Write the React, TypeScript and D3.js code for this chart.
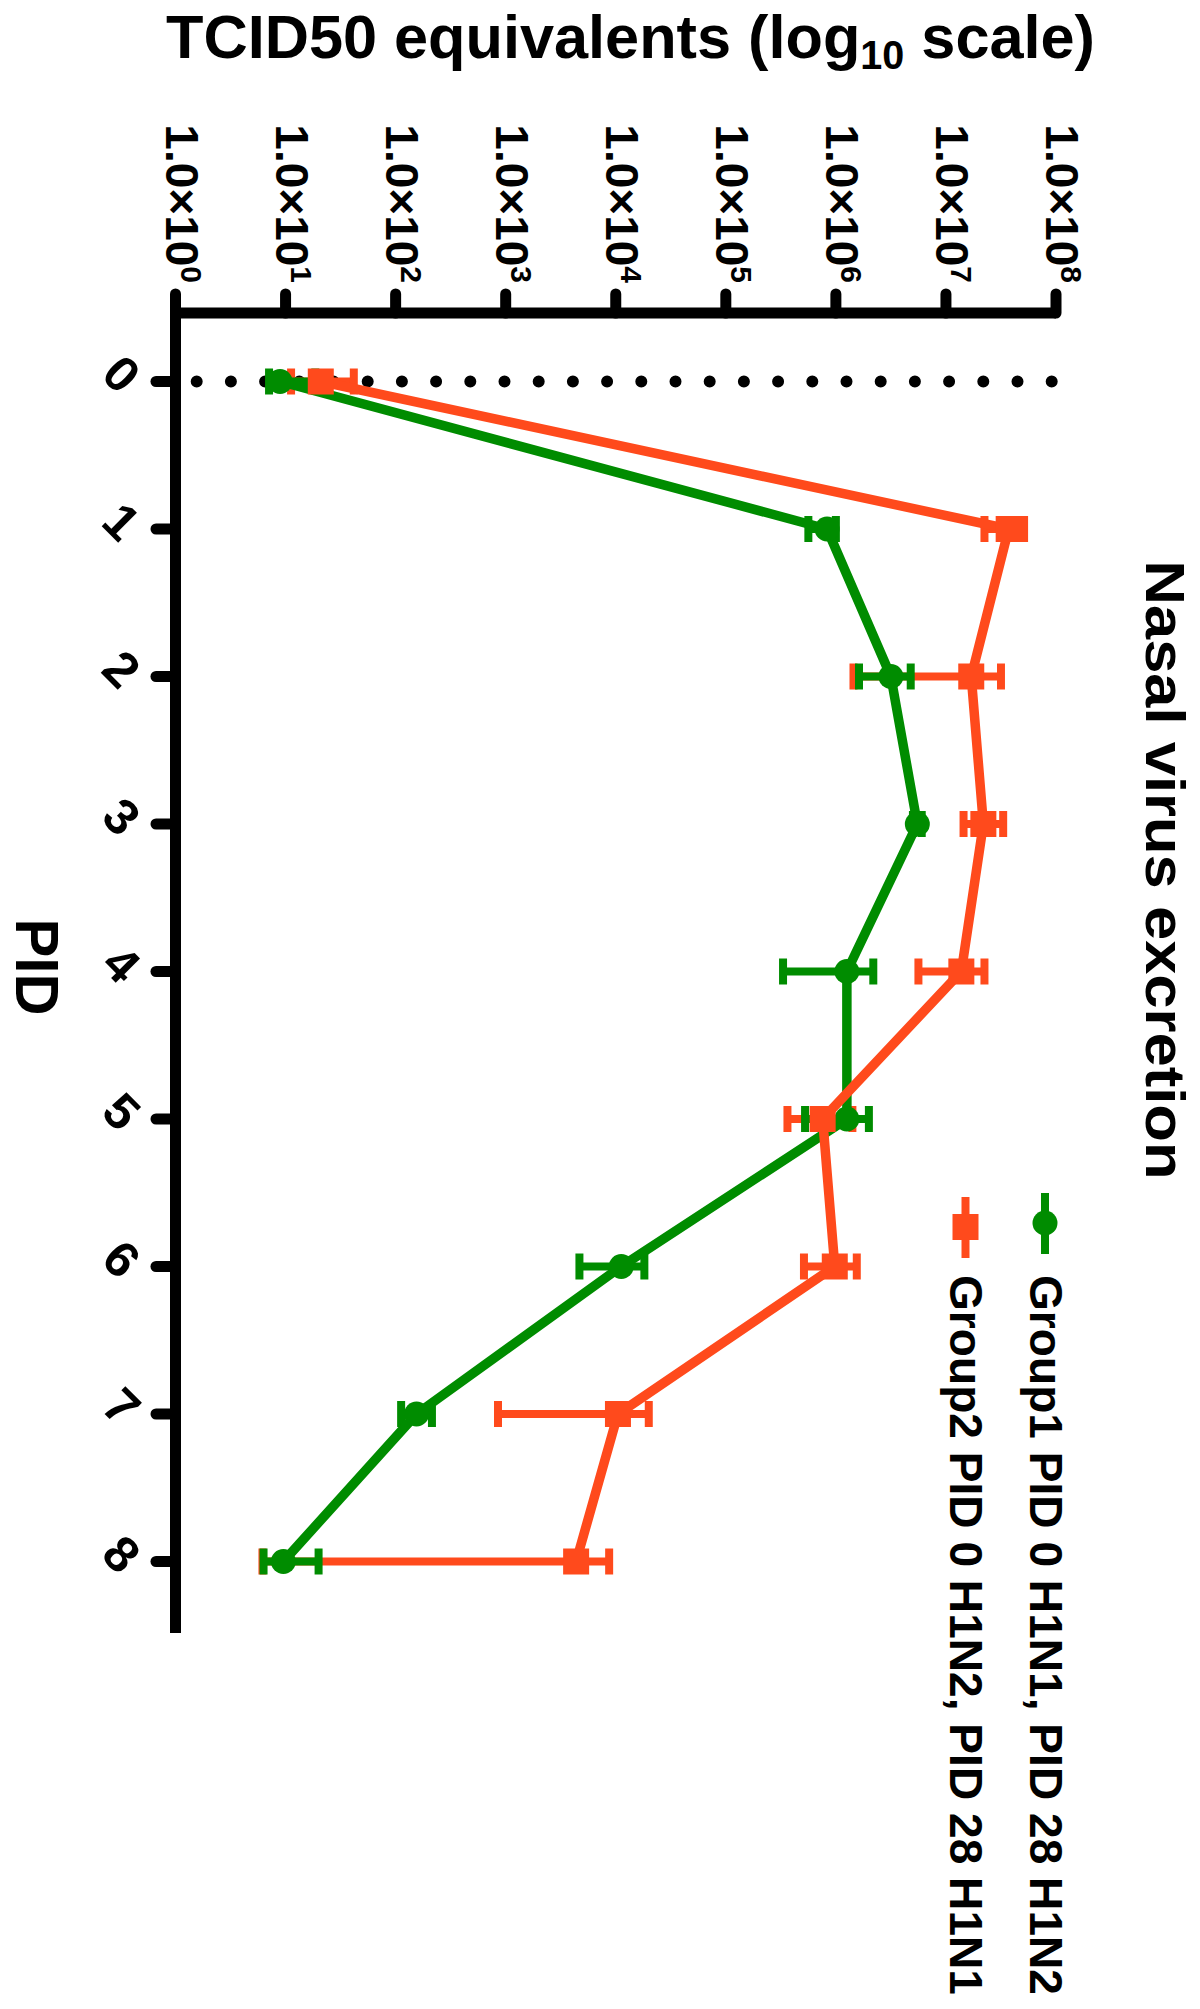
import React from 'react';
import * as d3 from 'd3';

// Post-infection day (PID) categories
const pids = [0, 1, 2, 3, 4, 5, 6, 7, 8];
// Group 1 (green circles): log10 TCID50 equivalents, mean and error-bar ends
const group1Mean = [0.95, 5.92, 6.5, 6.74, 6.1, 6.1, 4.05, 2.19, 0.98];
const group1Low = [0.85, 5.75, 6.21, 6.7, 5.52, 5.72, 3.67, 2.05, 0.8];
const group1High = [1.27, 6.0, 6.68, 6.78, 6.34, 6.3, 4.26, 2.33, 1.3];
// Group 2 (orange squares)
const group2Mean = [1.32, 7.57, 7.23, 7.34, 7.14, 5.88, 5.99, 4.02, 3.64];
const group2Low = [1.05, 7.35, 6.16, 7.16, 6.75, 5.56, 5.71, 2.93, 0.79];
const group2High = [1.62, 7.71, 7.5, 7.52, 7.35, 6.15, 6.19, 4.3, 3.94];
// Value-axis tick exponents (1.0×10^n)
const tickExponents = [0, 1, 2, 3, 4, 5, 6, 7, 8];
const legendLabels = ['Group1 PID 0 H1N1, PID 28 H1N2', 'Group2 PID 0 H1N2, PID 28 H1N1'];

const GREEN = '#008C00';
const ORANGE = '#FF4A1C';
const FONT = "'Liberation Sans', Arial, Helvetica, sans-serif";

export default function App() {
  const x = d3.scaleLog().domain([1, 1e8]).range([175.5, 1056]);
  const y = d3.scaleLinear().domain([0, 8]).range([381.5, 1561.5]);
  const axisY = 313;
  const axisX = 175.5;

  const line = d3
    .line<[number, number]>()
    .x((d) => x(Math.pow(10, d[1])))
    .y((d) => y(d[0]));

  const series = [
    { mean: group1Mean, low: group1Low, high: group1High, color: GREEN, shape: 'circle' },
    { mean: group2Mean, low: group2Low, high: group2High, color: ORANGE, shape: 'square' },
  ];

  const errorBars = (s: any, key: string) =>
    pids.map((p, i) => {
      const yy = y(p);
      const x1 = x(Math.pow(10, s.low[i]));
      const x2 = x(Math.pow(10, s.high[i]));
      return (
        <g key={key + i} stroke={s.color} strokeWidth={8}>
          <line x1={x1} x2={x2} y1={yy} y2={yy} />
          <line x1={x1} x2={x1} y1={yy - 13} y2={yy + 13} />
          <line x1={x2} x2={x2} y1={yy - 13} y2={yy + 13} />
        </g>
      );
    });

  const markers = (s: any, key: string) =>
    pids.map((p, i) => {
      const cx = x(Math.pow(10, s.mean[i]));
      const cy = y(p);
      return s.shape === 'circle' ? (
        <circle key={key + i} cx={cx} cy={cy} r={12.5} fill={s.color} />
      ) : (
        <rect key={key + i} x={cx - 13} y={cy - 13} width={26} height={26} fill={s.color} />
      );
    });

  return (
    <svg
      width={1200}
      height={2009}
      style={{ position: 'absolute', left: 0, top: 0, background: '#fff' }}
      fontFamily={FONT}
      fontWeight="bold"
    >
      <rect x={0} y={0} width={1200} height={2009} fill="#fff" />

      {/* Title (y-axis title of the original, drawn horizontally) */}
      <text x={166} y={58} fontSize={62} textLength={929} lengthAdjust="spacingAndGlyphs">
        <tspan>TCID50 equivalents (log</tspan>
        <tspan fontSize={40} dy={11}>10</tspan>
        <tspan dy={-11}> scale)</tspan>
      </text>

      {/* Value tick labels */}
      {tickExponents.map((e) => {
        const tx = x(Math.pow(10, e)) - 10;
        return (
          <text key={'tl' + e} transform={`translate(${tx},283) rotate(90)`} textAnchor="end" fontSize={46}>
            <tspan>1.0×10</tspan>
            <tspan fontSize={30} dy={-15}>{e}</tspan>
          </text>
        );
      })}

      {/* Value axis */}
      <line x1={axisX - 5.5} x2={x(1e8)} y1={axisY} y2={axisY} stroke="#000" strokeWidth={11} />
      {tickExponents.map((e) => (
        <line
          key={'vt' + e}
          x1={x(Math.pow(10, e))}
          x2={x(Math.pow(10, e))}
          y1={294}
          y2={axisY}
          stroke="#000"
          strokeWidth={11}
          strokeLinecap="round"
        />
      ))}

      {/* PID axis */}
      <line x1={axisX} x2={axisX} y1={axisY} y2={1633} stroke="#000" strokeWidth={11} />
      {pids.map((p) => (
        <line
          key={'pt' + p}
          x1={156}
          x2={axisX}
          y1={y(p)}
          y2={y(p)}
          stroke="#000"
          strokeWidth={11}
          strokeLinecap="round"
        />
      ))}
      {pids.map((p) => (
        <text
          key={'pl' + p}
          transform={`translate(122,${y(p) - 8}) rotate(45)`}
          textAnchor="middle"
          dy="0.36em"
          fontSize={50}
        >
          {p}
        </text>
      ))}

      {/* PID axis title */}
      <text
        transform={`translate(16,967) rotate(90)`}
        textAnchor="middle"
        fontSize={62}
        textLength={97}
        lengthAdjust="spacingAndGlyphs"
      >
        PID
      </text>

      {/* Dotted reference line at PID 0 */}
      <line
        x1={196.7}
        x2={1052}
        y1={y(0)}
        y2={y(0)}
        stroke="#000"
        strokeWidth={12}
        strokeLinecap="round"
        strokeDasharray="0 34.2"
      />

      {/* Data */}
      {errorBars(series[1], 'e2')}
      {errorBars(series[0], 'e1')}
      {series.map((s, k) => (
        <path
          key={'ln' + k}
          d={line(pids.map((p, i) => [p, s.mean[i]] as [number, number])) || ''}
          fill="none"
          stroke={s.color}
          strokeWidth={9.5}
          strokeLinejoin="round"
        />
      ))}
      {markers(series[0], 'm1')}
      {markers(series[1], 'm2')}

      {/* Chart title */}
      <text
        transform={`translate(1146,870) rotate(90)`}
        textAnchor="middle"
        fontSize={56}
        textLength={619}
        lengthAdjust="spacingAndGlyphs"
      >
        Nasal virus excretion
      </text>

      {/* Legend */}
      <line x1={1045} x2={1045} y1={1193} y2={1254} stroke={GREEN} strokeWidth={8} />
      <circle cx={1045} cy={1223} r={12.5} fill={GREEN} />
      <text
        transform={`translate(1030,1275) rotate(90)`}
        fontSize={46}
        textLength={720}
        lengthAdjust="spacingAndGlyphs"
      >
        {legendLabels[0]}
      </text>
      <line x1={965.5} x2={965.5} y1={1197} y2={1258} stroke={ORANGE} strokeWidth={8} />
      <rect x={952.5} y={1214} width={26} height={26} fill={ORANGE} />
      <text
        transform={`translate(950,1275) rotate(90)`}
        fontSize={46}
        textLength={720}
        lengthAdjust="spacingAndGlyphs"
      >
        {legendLabels[1]}
      </text>
    </svg>
  );
}
